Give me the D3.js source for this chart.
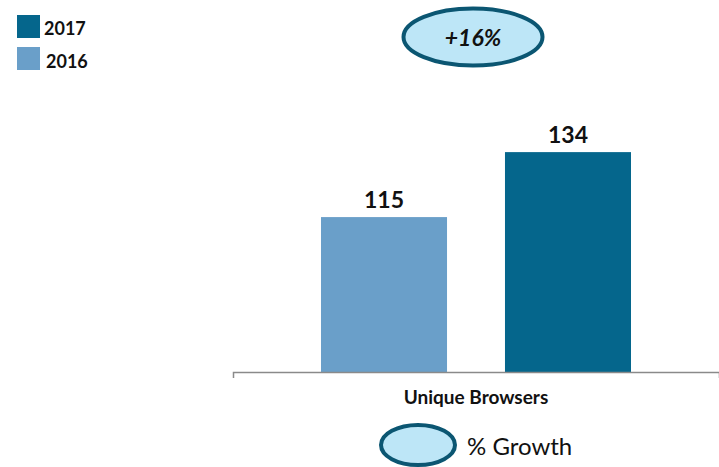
<!DOCTYPE html>
<html><head><meta charset="utf-8">
<script src="https://cdn.jsdelivr.net/npm/d3@7"></script>
<style>body{margin:0;background:#fff}svg{display:block;font-family:Lato,"Open Sans",sans-serif}</style>
</head><body><svg id="c" width="719" height="467"></svg>
<script>
const categories = ["Unique Browsers"];
const series = ["2016", "2017"];
const values2016 = [115];
const values2017 = [134];
const growthLabels = ["+16%"];
const legendSeries = ["2017", "2016"];
const colors = {"2016": "#6a9fc9", "2017": "#05668c"};

const svg = d3.select("#c");
const x0 = d3.scaleBand().domain(categories).range([233, 719]);
const x1 = d3.scaleBand().domain(series).range([-155, 155]).paddingInner(0.315).paddingOuter(0);
const y = d3.scaleLinear().domain([69.7, 160]).range([372, 63.2]);

const data = categories.map((c, i) => ({cat: c, vals: [{s: "2016", v: values2016[i]}, {s: "2017", v: values2017[i]}]}));

const g = svg.selectAll("g.cat").data(data).join("g")
  .attr("transform", d => `translate(${x0(d.cat) + x0.bandwidth() / 2},0)`);
g.selectAll("rect").data(d => d.vals).join("rect")
  .attr("x", d => x1(d.s)).attr("width", x1.bandwidth())
  .attr("y", d => y(d.v)).attr("height", d => y.range()[0] - y(d.v))
  .attr("fill", d => colors[d.s]);
g.selectAll("text.val").data(d => d.vals).join("text")
  .attr("class", "val")
  .attr("x", d => x1(d.s) + x1.bandwidth() / 2)
  .attr("y", d => y(d.v) - 9)
  .attr("text-anchor", "middle").attr("font-weight", "bold").attr("font-size", 23)
  .attr("fill", "#111").text(d => d.v);

// axis
const ax = svg.append("g").attr("transform", "translate(0,372)")
  .call(d3.axisBottom(x0).tickSize(0).tickSizeOuter(6).tickPadding(19));
ax.select(".domain").attr("stroke", "#8a8a8a").attr("stroke-width", 1.5);
ax.selectAll(".tick text").attr("font-family", "Lato, sans-serif").attr("font-weight", "bold")
  .attr("font-size", 19).attr("fill", "#111");

// growth ellipse
const gx = x0(categories[0]) + x0.bandwidth() / 2 - 3;
svg.append("ellipse").attr("cx", gx).attr("cy", 37).attr("rx", 69.5).attr("ry", 28.5)
  .attr("fill", "#bde6f7").attr("stroke", "#0b5672").attr("stroke-width", 4);
svg.append("text").attr("x", gx).attr("y", 46).attr("text-anchor", "middle")
  .attr("font-weight", "bold").attr("font-style", "italic").attr("font-size", 23).attr("fill", "#111")
  .text(growthLabels[0]);

// top legend
const lg = svg.selectAll("g.leg").data(legendSeries).join("g").attr("class", "leg")
  .attr("transform", (d, i) => `translate(17,${15 + i * 32})`);
lg.append("rect").attr("width", 23).attr("height", 23).attr("fill", d => colors[d]);
lg.append("text").attr("x", (d, i) => 27 + i * 2).attr("y", (d, i) => 20 + i).attr("font-weight", "bold")
  .attr("font-size", 18).attr("fill", "#111").text(d => d);

// bottom legend
svg.append("ellipse").attr("cx", 418).attr("cy", 445).attr("rx", 37).attr("ry", 20)
  .attr("fill", "#bde6f7").attr("stroke", "#0b5672").attr("stroke-width", 4);
svg.append("text").attr("x", 467).attr("y", 455).attr("font-size", 24).attr("fill", "#111").text("% Growth");
</script></body></html>
